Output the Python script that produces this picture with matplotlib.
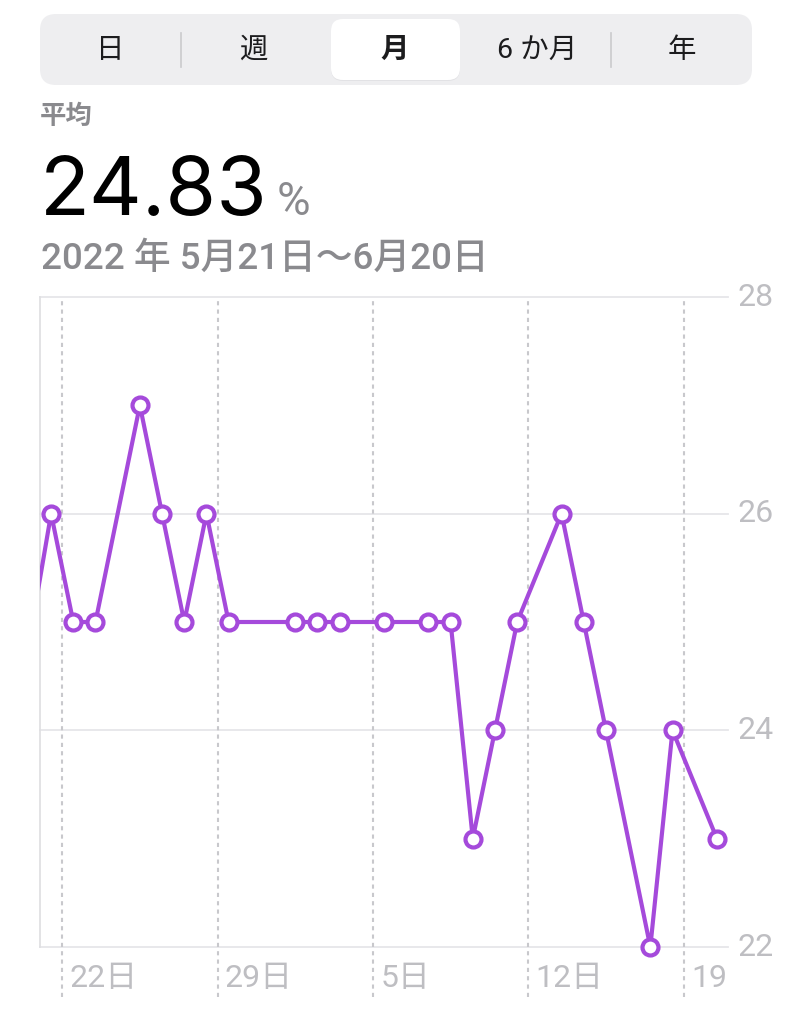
import numpy as np
import matplotlib
matplotlib.use('Agg')
import matplotlib.pyplot as plt
from matplotlib.patches import FancyBboxPatch
from matplotlib.transforms import blended_transform_factory

plt.rcParams['font.family'] = ['Roboto', 'Noto Sans CJK JP', 'DejaVu Sans']

# header texts
tabs = ['日', '週', '月', '6 か月', '年']
selectedTab = '月'
avgLabel = '平均'
avgValue = '24.83'
avgUnit = '%'
rangeLabel = '2022 年 5月21日〜6月20日'

# days counted from 5/21 (0 = 5/21); -1 is the point just left of the window
days = [-1, 0, 1, 2, 4, 5, 6, 7, 8, 11, 12, 13, 15, 17, 18, 19, 20, 21, 23, 24, 25, 27, 28, 30]
values = [24.8, 26, 25, 25, 27, 26, 25, 26, 25, 25, 25, 25, 25, 25, 25, 23, 24, 25, 26, 25, 24, 22, 24, 23]

tickDays = [1, 8, 15, 22, 29]
tickLabels = ['22日', '29日', '5日', '12日', '19']
yTicks = [22, 24, 26, 28]

purple = '#A54ADB'
gray = '#8A8A8E'
light = '#BEBEC2'

fig = plt.figure(figsize=(7.96, 10.24), dpi=100)

# overlay in pixel coordinates for the header
bg = fig.add_axes([0, 0, 1, 1])
bg.set_xlim(0, 796)
bg.set_ylim(1024, 0)
bg.axis('off')

bg.add_patch(FancyBboxPatch((40, 14), 712, 71, boxstyle='round,pad=0,rounding_size=16',
                            fc='#EEEEF0', ec='none'))
bg.add_patch(FancyBboxPatch((331, 20), 129, 61, boxstyle='round,pad=0,rounding_size=12',
                            fc='#E2E2E5', ec='none'))
bg.add_patch(FancyBboxPatch((331, 19), 129, 61, boxstyle='round,pad=0,rounding_size=12',
                            fc='white', ec='none'))
for sx in [181, 611]:
    bg.plot([sx, sx], [33, 67], color='#CACACD', lw=1.2)

tabX = [110, 253, 395, 537, 682]
for tx, t in zip(tabX, tabs):
    bg.text(tx, 50, t, ha='center', va='center', fontsize=20.5, color='#1C1C1E',
            fontweight='bold' if t == selectedTab else 'normal')

bg.text(40, 117, avgLabel, ha='left', va='center', fontsize=19, color=gray, fontweight='bold')
bg.text(40, 215, avgValue, ha='left', va='baseline', fontsize=59, color='black',
        family=['Inter', 'Roboto', 'DejaVu Sans'])
bg.text(277, 215, avgUnit, ha='left', va='baseline', fontsize=33, color=gray)
bg.text(41, 269, rangeLabel, ha='left', va='baseline', fontsize=26.5, color=gray,
        fontweight='medium')

# chart
ax = fig.add_axes([40 / 796, 1 - 947 / 1024, 688 / 796, 650 / 1024])
ax.set_xlim(0, 31)
ax.set_ylim(22, 28)
ax.patch.set_alpha(0)
for s in ['top', 'right', 'bottom']:
    ax.spines[s].set_visible(False)
ax.spines['left'].set_color('#E0E0E3')
ax.spines['left'].set_linewidth(1.3)
ax.set_xticks([])
ax.set_yticks([])

for yv in yTicks:
    ax.axhline(yv, color='#E6E6E9', lw=1.3, clip_on=False, zorder=1)
for d in tickDays:
    ax.axvline(d, ymin=-0.077, ymax=1, color='#C8C8CC', lw=1.5, ls=(0, (2, 2)),
               clip_on=False, zorder=1)

xs = np.array(days) + 0.5
ax.plot(xs, values, color=purple, lw=3.0, zorder=3, solid_joinstyle='round')
vis = xs > 0
ax.plot(xs[vis], np.array(values)[vis], ls='none', marker='o', ms=11.5, mfc='white',
        mec=purple, mew=3.0, clip_on=False, zorder=4)

trans = blended_transform_factory(ax.transData, ax.transAxes)
for d, lab in zip(tickDays, tickLabels):
    ax.text(d + 0.33, -0.049, lab, transform=trans, ha='left', va='center',
            fontsize=23, color=light)
trans2 = blended_transform_factory(ax.transAxes, ax.transData)
for yv in yTicks:
    ax.text(1.014, yv, str(yv), transform=trans2, ha='left', va='center',
            fontsize=23, color=light)

fig.savefig('out.png', dpi=100)
